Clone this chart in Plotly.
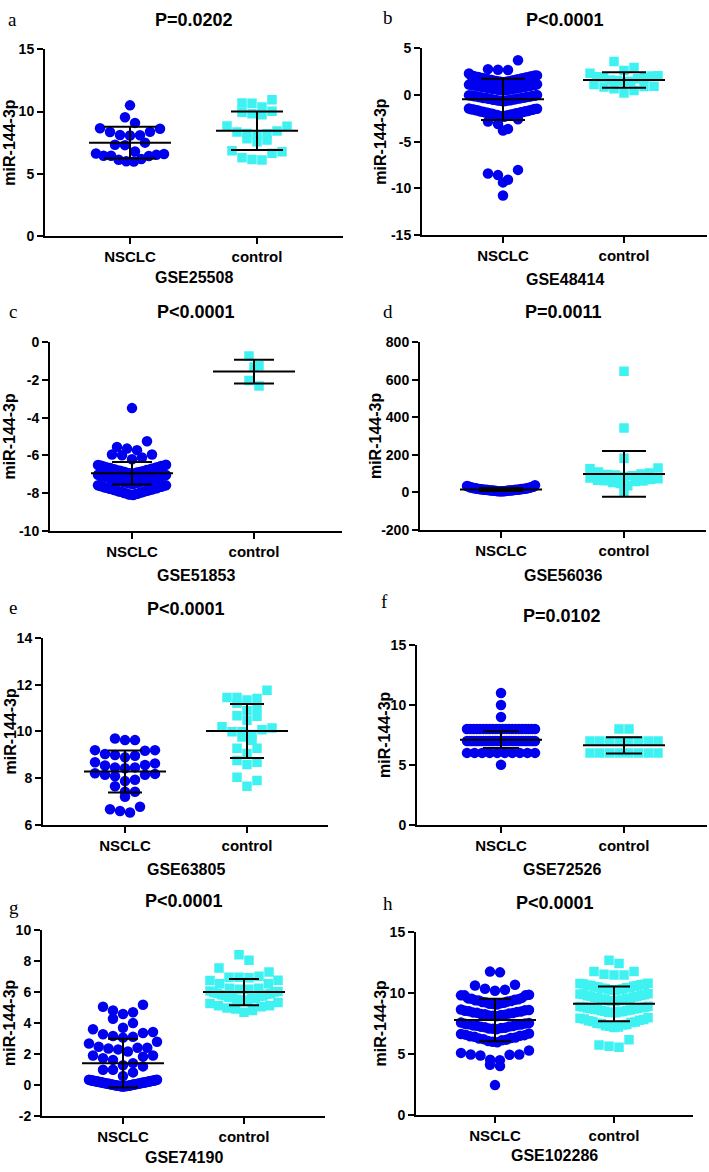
import plotly.graph_objects as go

# ---------------- data ----------------
categories = ["NSCLC", "control"]
letters = ["a", "b", "c", "d", "e", "f", "g", "h"]
p_labels = ["P=0.0202", "P<0.0001", "P<0.0001", "P=0.0011",
            "P<0.0001", "P=0.0102", "P<0.0001", "P<0.0001"]
datasets = ["GSE25508", "GSE48414", "GSE51853", "GSE56036",
            "GSE63805", "GSE72526", "GSE74190", "GSE102286"]
y_ranges = [[0, 15], [-15, 5], [-10, 0], [-200, 800],
            [6, 14], [0, 15], [-2, 10], [0, 15]]
y_ticks = [[0, 5, 10, 15], [-15, -10, -5, 0, 5], [-10, -8, -6, -4, -2, 0],
           [-200, 0, 200, 400, 600, 800], [6, 8, 10, 12, 14], [0, 5, 10, 15],
           [-2, 0, 2, 4, 6, 8, 10], [0, 5, 10, 15]]

a_nsclc = [10.50, 9.54, 9.09, 8.66, 8.62, 8.38, 8.35, 8.12, 8.10, 8.08, 7.50, 7.33,
           7.30, 6.78, 6.62, 6.58, 6.52, 6.45, 6.44, 6.42, 6.18, 6.12, 6.00, 5.98]
a_control = [10.95, 10.68, 10.66, 10.36, 10.02, 9.94, 9.83, 9.75, 8.83, 8.81, 8.43, 8.35,
             8.24, 8.22, 8.11, 7.82, 7.71, 7.58, 6.84, 6.76, 6.65, 6.28, 6.15, 6.10]

b_nsclc = [3.73, 2.78, 2.71, 2.68, 2.32,
           2.11, 2.09, 2.06, 2.03, 2.01, 1.98, 1.95, 1.93, 1.91, 1.87, 1.85, 1.83, 1.79, 1.77, 1.74,
           1.72, 1.69, 1.66, 1.64, 1.62, 1.59, 1.56, 1.54, 1.51, 1.49, 1.46, 1.44, 1.42, 1.39, 1.37,
           1.15, 1.12, 1.10, 1.08, 1.05, 1.02, 1.00, 0.97, 0.95, 0.93, 0.90, 0.88, 0.85, 0.83, 0.81,
           0.78, 0.76, 0.74, 0.71, 0.69, 0.66, 0.64, 0.62, 0.60, 0.58, 0.56, 0.54, 0.52, 0.50,
           0.00, -0.03, -0.05, -0.07, -0.10, -0.12, -0.14, -0.17, -0.19, -0.22, -0.24, -0.26, -0.29,
           -0.31, -0.33, -0.36, -0.38, -0.40, -0.43, -0.45, -0.48, -0.50, -0.52, -0.55, -0.57, -0.59,
           -0.62, -0.64, -0.67,
           -1.44, -1.47, -1.50, -1.52, -1.55, -1.59, -1.62, -1.64, -1.67, -1.71, -1.73, -1.76, -1.79,
           -1.82, -1.85, -1.88, -1.91, -1.94, -1.96, -1.99, -2.02, -2.05, -2.08, -2.11, -2.14, -2.17,
           -2.20, -2.24, -2.28, -2.32,
           -2.60, -2.85, -3.10, -3.63, -3.80,
           -8.03, -8.42, -8.59, -9.08, -9.37, -10.77]
b_control = [3.59, 2.96, 2.62, 2.35, 2.08, 2.05, 1.95, 1.92, 1.88, 1.75, 1.62, 1.55, 1.48, 1.42,
             1.13, 0.95, 0.93, 0.85, 0.67, 0.49, 0.21]

c_nsclc = [-3.49, -5.25, -5.55, -5.64, -5.72, -5.95, -5.95, -5.99, -6.11, -6.20,
           -6.50, -6.51, -6.53, -6.55, -6.56, -6.58, -6.61, -6.62, -6.64, -6.65, -6.67, -6.70,
           -6.71, -6.72, -6.75, -6.76, -6.78, -6.80, -6.81, -6.83, -6.85, -6.86, -6.88, -6.90,
           -6.91, -6.93, -6.95, -6.96, -6.98,
           -7.03, -7.04, -7.06, -7.08, -7.09, -7.11, -7.13, -7.14, -7.16, -7.19, -7.20, -7.22,
           -7.23, -7.25, -7.27, -7.29, -7.30, -7.32, -7.34, -7.35, -7.37, -7.39, -7.40, -7.42,
           -7.44, -7.45, -7.47, -7.48, -7.50, -7.52,
           -7.58, -7.59, -7.61, -7.63, -7.65, -7.66, -7.68, -7.70, -7.72, -7.74, -7.75, -7.77,
           -7.79, -7.81, -7.83, -7.84, -7.86, -7.88, -7.90, -7.92, -7.93, -7.95, -7.97, -7.99,
           -8.01, -8.03, -8.05, -8.07, -8.08, -8.10]
c_control = [-0.72, -1.24, -1.31, -2.02, -2.32]

d_nsclc = [38, 34, 31, 29, 28, 26, 25, 24, 23, 22, 21, 20, 19, 19, 18, 17, 17, 16, 15, 15,
           14, 14, 13, 13, 12, 12, 11, 11, 10, 10, 9, 9, 8, 8, 7, 7, 6, 6, 5, 5]
d_control = [646, 343, 182, 129, 125, 108, 103, 98, 95, 92, 88, 84, 76, 72, 68, 64, 62, 60,
             57, 52, 47, 35, 6]

e_nsclc = [9.63, 9.63, 9.70, 9.20, 9.20, 9.17, 8.89, 9.03, 8.99, 8.96, 8.63, 8.68, 8.56, 8.54,
           8.46, 8.42, 8.46, 8.21, 8.14, 8.08, 8.14, 8.18, 7.87, 7.93, 7.65, 7.41, 7.41, 7.20,
           6.66, 6.52, 6.59, 6.77]
e_control = [11.77, 11.46, 11.42, 11.46, 11.35, 11.21, 11.02, 10.89, 10.65, 10.68, 10.48, 10.20,
             10.15, 10.08, 9.99, 9.99, 9.87, 9.76, 9.62, 9.28, 9.28, 9.06, 8.75, 8.68, 8.58, 8.04,
             7.90, 7.65]

f_nsclc = [11, 10, 9,
           8, 8, 8, 8, 8, 8, 8, 8, 8, 8, 8, 8, 8, 8, 8, 8, 8, 8, 8, 8, 8, 8,
           7, 7, 7, 7, 7, 7, 7, 7, 7, 7, 7, 7, 7, 7, 7, 7, 7, 7, 7, 7, 7, 7, 7, 7, 7, 7, 7, 7, 7, 7,
           6, 6, 6, 6, 6, 6, 6, 6, 6, 6,
           5]
f_control = [8, 8, 7, 7, 7, 7, 7, 7, 7, 7, 6, 6, 6, 6, 6, 6, 6, 6]

g_nsclc = [5.18, 5.05, 4.80, 4.69, 4.58, 4.27, 3.99, 3.69, 3.59, 3.42, 3.35, 3.27, 3.16, 3.10,
           3.05, 2.78, 2.67, 2.46, 2.40, 2.40, 2.35, 2.29, 2.15, 1.89, 1.89, 1.82, 1.72, 1.61,
           1.40, 1.26, 1.19, 0.97, 0.97, 0.80, 0.56,
           0.33, 0.32, 0.31, 0.30, 0.29, 0.28, 0.27, 0.26, 0.26, 0.25, 0.24, 0.23, 0.22, 0.21,
           0.21, 0.20, 0.19, 0.18, 0.17, 0.16, 0.16, 0.15, 0.14, 0.13, 0.12, 0.11, 0.11, 0.10,
           0.09, 0.08, 0.07, 0.06, 0.06, 0.05, 0.04, 0.03, 0.02, 0.01, 0.01, 0.00, -0.01, -0.02,
           -0.03, -0.03, -0.04, -0.05, -0.06, -0.06, -0.07, -0.08, -0.08, -0.09, -0.10, -0.10, -0.11]
g_control = [8.41, 8.05, 7.56, 7.30, 7.03, 6.96, 6.96, 6.93, 6.77, 6.75, 6.54, 6.54, 6.24, 6.24,
             6.18, 6.18,
             6.07, 6.04, 6.00, 5.97, 5.93, 5.90, 5.86, 5.82, 5.78, 5.75, 5.71, 5.67, 5.64, 5.60,
             5.56, 5.53, 5.50, 5.47, 5.44,
             5.33, 5.26, 5.11, 5.11, 5.05, 4.97, 4.90, 4.80, 4.70]

h_nsclc = [11.76, 11.70, 10.68, 10.62, 10.35, 10.27, 10.19, 9.86, 9.81, 9.81, 9.81,
           9.60, 9.56, 9.52, 9.49, 9.45, 9.41, 9.38, 9.34, 9.30, 9.27, 9.23, 9.20, 9.16, 9.12,
           9.09, 9.06,
           8.65, 8.61, 8.58, 8.54, 8.51, 8.48, 8.45, 8.41, 8.38, 8.35, 8.31, 8.28, 8.25, 8.22,
           8.19, 8.16, 8.13, 8.10,
           7.57, 7.54, 7.50, 7.47, 7.44, 7.41, 7.38, 7.34, 7.31, 7.28, 7.25, 7.22, 7.18, 7.15,
           7.12, 7.09, 7.06, 7.03,
           6.68, 6.63, 6.58, 6.54, 6.49, 6.44, 6.40, 6.35, 6.30, 6.26, 6.21, 6.16, 6.11, 6.06,
           6.00, 5.95,
           5.27, 5.08, 4.95, 4.95, 4.92, 4.86, 4.51, 4.47, 4.10, 4.00, 2.43]
h_control = [12.70, 12.43, 11.76, 11.76, 11.54, 11.49, 11.49,
             10.81, 10.78, 10.75, 10.72, 10.69, 10.65, 10.62, 10.59, 10.56, 10.53, 10.49, 10.46,
             10.43, 10.40, 10.37, 10.33, 10.30, 10.27, 10.24, 10.20,
             9.95, 9.92, 9.88, 9.85, 9.81, 9.78, 9.75, 9.71, 9.68, 9.64, 9.61, 9.57, 9.54, 9.50,
             9.47, 9.43, 9.40, 9.37, 9.33, 9.30,
             8.92, 8.89, 8.86, 8.83, 8.80, 8.78, 8.75, 8.72, 8.69, 8.66, 8.63, 8.60, 8.57, 8.54,
             8.51, 8.49, 8.46, 8.43, 8.40, 8.38,
             7.97, 7.92, 7.87, 7.82, 7.77, 7.72, 7.67, 7.62, 7.57, 7.52, 7.47, 7.42, 7.37, 7.32,
             7.26, 7.21, 7.16,
             6.16, 5.73, 5.62, 5.54]

nsclc_means = [7.50, -0.46, -6.95, 15.4, 8.28, 7.10, 1.40, 7.78]
nsclc_sds = [1.27, 2.22, 0.60, 8.0, 0.90, 0.70, 1.57, 1.74]
control_means = [8.45, 1.62, -1.55, 98.0, 10.02, 6.63, 6.00, 9.11]
control_sds = [1.55, 0.83, 0.63, 122.0, 1.16, 0.68, 0.85, 1.42]

nsclc_groups = [a_nsclc, b_nsclc, c_nsclc, d_nsclc, e_nsclc, f_nsclc, g_nsclc, h_nsclc]
control_groups = [a_control, b_control, c_control, d_control, e_control, f_control, g_control, h_control]

# ---------------- layout geometry (pixels) ----------------
W, H = 709, 1172
GEOM = [
    dict(xl=45, xr=343, c1=130, c2=257, yt=42, yb=231, ty=12, lx=6, ly=12, xly=273, ytx=10, cap=26),
    dict(xl=422, xr=707, c1=503, c2=624, yt=41, yb=230, ty=12, lx=381, ly=10, xly=275, ytx=381, cap=22),
    dict(xl=50, xr=342, c1=132, c2=254, yt=339, yb=530, ty=308, lx=7, ly=308, xly=575, ytx=10, cap=20),
    dict(xl=420, xr=706, c1=501, c2=624, yt=339, yb=529, ty=308, lx=381, ly=308, xly=575, ytx=375, cap=22),
    dict(xl=43, xr=328, c1=125, c2=247, yt=639, yb=828, ty=609, lx=7, ly=608, xly=873, ytx=10, cap=17),
    dict(xl=417, xr=707, c1=501, c2=624, yt=646, yb=828, ty=616, lx=379, ly=602, xly=873, ytx=385, cap=18),
    dict(xl=42, xr=325, c1=123, c2=244, yt=935, yb=1123, ty=905, lx=7, ly=912, xly=1165, ytx=10, cap=15),
    dict(xl=416, xr=693, c1=495, c2=614, yt=937, yb=1122, ty=907, lx=381, ly=908, xly=1163, ytx=380, cap=16),
]
MARKER_PX = 10.0
MAX_HALF_PX = 34.0
MEAN_HALF_PX = 41.0
BLUE = "#0000EE"
CYAN = "#3FF2F2"
FONT = "Liberation Sans, Arial, sans-serif"
SERIF = "Liberation Serif, Times New Roman, serif"


def swarm_offsets(values, px_per_unit):
    """Row-binned scatter-dot layout (pixel offsets from the category centre)."""
    order = sorted(range(len(values)), key=lambda i: -values[i])
    h = MARKER_PX / px_per_unit
    rows, cur, top = [], [], None
    for i in order:
        v = values[i]
        if top is None or top - v > h + 1e-9:
            if cur:
                rows.append(cur)
            cur, top = [i], v
        else:
            cur.append(i)
    if cur:
        rows.append(cur)
    offs = [0.0] * len(values)
    for row in rows:
        row_sorted = sorted(row, key=lambda i: values[i])
        n = len(row_sorted)
        sp = MARKER_PX if n == 1 else min(MARKER_PX, 2 * MAX_HALF_PX / (n - 1))
        slots = []
        if n % 2 == 1:
            slots.append(0.0)
            mags = [k * sp for k in range(1, (n - 1) // 2 + 1)]
        else:
            mags = [(k + 0.5) * sp for k in range(n // 2)]
        for j, m in enumerate(mags):
            slots += [m, -m] if j % 2 == 0 else [-m, m]
        for idx, s in zip(row_sorted, slots):
            offs[idx] = s
    return offs


fig = go.Figure()
annotations = []
for p in range(8):
    g = GEOM[p]
    sfx = "" if p == 0 else str(p + 1)
    sp_px = g["c2"] - g["c1"]
    xr0 = (g["xl"] - g["c1"]) / sp_px
    xr1 = 1 + (g["xr"] - g["c2"]) / sp_px
    ymin, ymax = y_ranges[p]
    ppu = (g["yb"] - g["yt"]) / (ymax - ymin)

    for k, (vals, sym, col, size) in enumerate([
            (nsclc_groups[p], "circle", BLUE, 10.5),
            (control_groups[p], "square", CYAN, 9.5)]):
        offs = swarm_offsets(vals, ppu)
        xs = [k + o / sp_px for o in offs]
        fig.add_trace(go.Scatter(
            x=xs, y=vals, mode="markers", xaxis="x" + sfx, yaxis="y" + sfx,
            marker=dict(symbol=sym, color=col, size=size, line=dict(width=0)),
            showlegend=False, hoverinfo="y"))

    for k, (m, s) in enumerate([(nsclc_means[p], nsclc_sds[p]),
                                (control_means[p], control_sds[p])]):
        mh = MEAN_HALF_PX / sp_px
        ch = g["cap"] / sp_px
        xs = [k - mh, k + mh, None, k, k, None, k - ch, k + ch, None, k - ch, k + ch]
        ys = [m, m, None, m - s, m + s, None, m + s, m + s, None, m - s, m - s]
        fig.add_trace(go.Scatter(
            x=xs, y=ys, mode="lines", xaxis="x" + sfx, yaxis="y" + sfx,
            line=dict(color="black", width=2), showlegend=False, hoverinfo="skip"))

    fig.update_layout(**{
        "xaxis" + sfx: dict(
            domain=[g["xl"] / W, g["xr"] / W], range=[xr0, xr1], anchor="y" + sfx,
            showline=True, linecolor="black", linewidth=2, showgrid=False, zeroline=False,
            ticks="outside", ticklen=6, tickwidth=2, tickcolor="black",
            tickvals=[0, 1], ticktext=["<b>%s</b>" % c for c in categories],
            tickfont=dict(family=FONT, size=15, color="black")),
        "yaxis" + sfx: dict(
            domain=[1 - g["yb"] / H, 1 - g["yt"] / H], range=[ymin, ymax], anchor="x" + sfx,
            showline=True, linecolor="black", linewidth=2, showgrid=False, zeroline=False,
            ticks="outside", ticklen=6, tickwidth=2, tickcolor="black",
            tickvals=y_ticks[p], ticktext=["<b>%g</b>" % t for t in y_ticks[p]],
            tickfont=dict(family=FONT, size=14, color="black")),
    })

    cx = (g["xl"] + g["xr"]) / 2
    annotations += [
        dict(x=cx / W, y=1 - g["ty"] / H, text="<b>%s</b>" % p_labels[p],
             font=dict(family=FONT, size=18, color="black")),
        dict(x=g["lx"] / W, y=1 - g["ly"] / H, text=letters[p], xanchor="left",
             font=dict(family=SERIF, size=19, color="black")),
        dict(x=cx / W, y=1 - g["xly"] / H, text="<b>%s</b>" % datasets[p],
             font=dict(family=FONT, size=16, color="black")),
        dict(x=g["ytx"] / W, y=1 - (g["yt"] + g["yb"]) / 2 / H, text="<b>miR-144-3p</b>",
             textangle=-90, font=dict(family=FONT, size=16, color="black")),
    ]

for a in annotations:
    a.update(xref="paper", yref="paper", showarrow=False)
    a.setdefault("xanchor", "center")
    a.setdefault("yanchor", "middle")

fig.update_layout(width=W, height=H, margin=dict(l=0, r=0, t=0, b=0),
                  paper_bgcolor="white", plot_bgcolor="white",
                  showlegend=False, annotations=annotations, hovermode=False)

fig.write_html("out.html",
               config={"displayModeBar": False, "staticPlot": True},
               post_script=("document.documentElement.style.margin='0px';"
                            "document.documentElement.style.padding='0px';"
                            "document.body.style.margin='0px';"
                            "document.body.style.padding='0px';"
                            "document.body.style.overflow='hidden';"))
